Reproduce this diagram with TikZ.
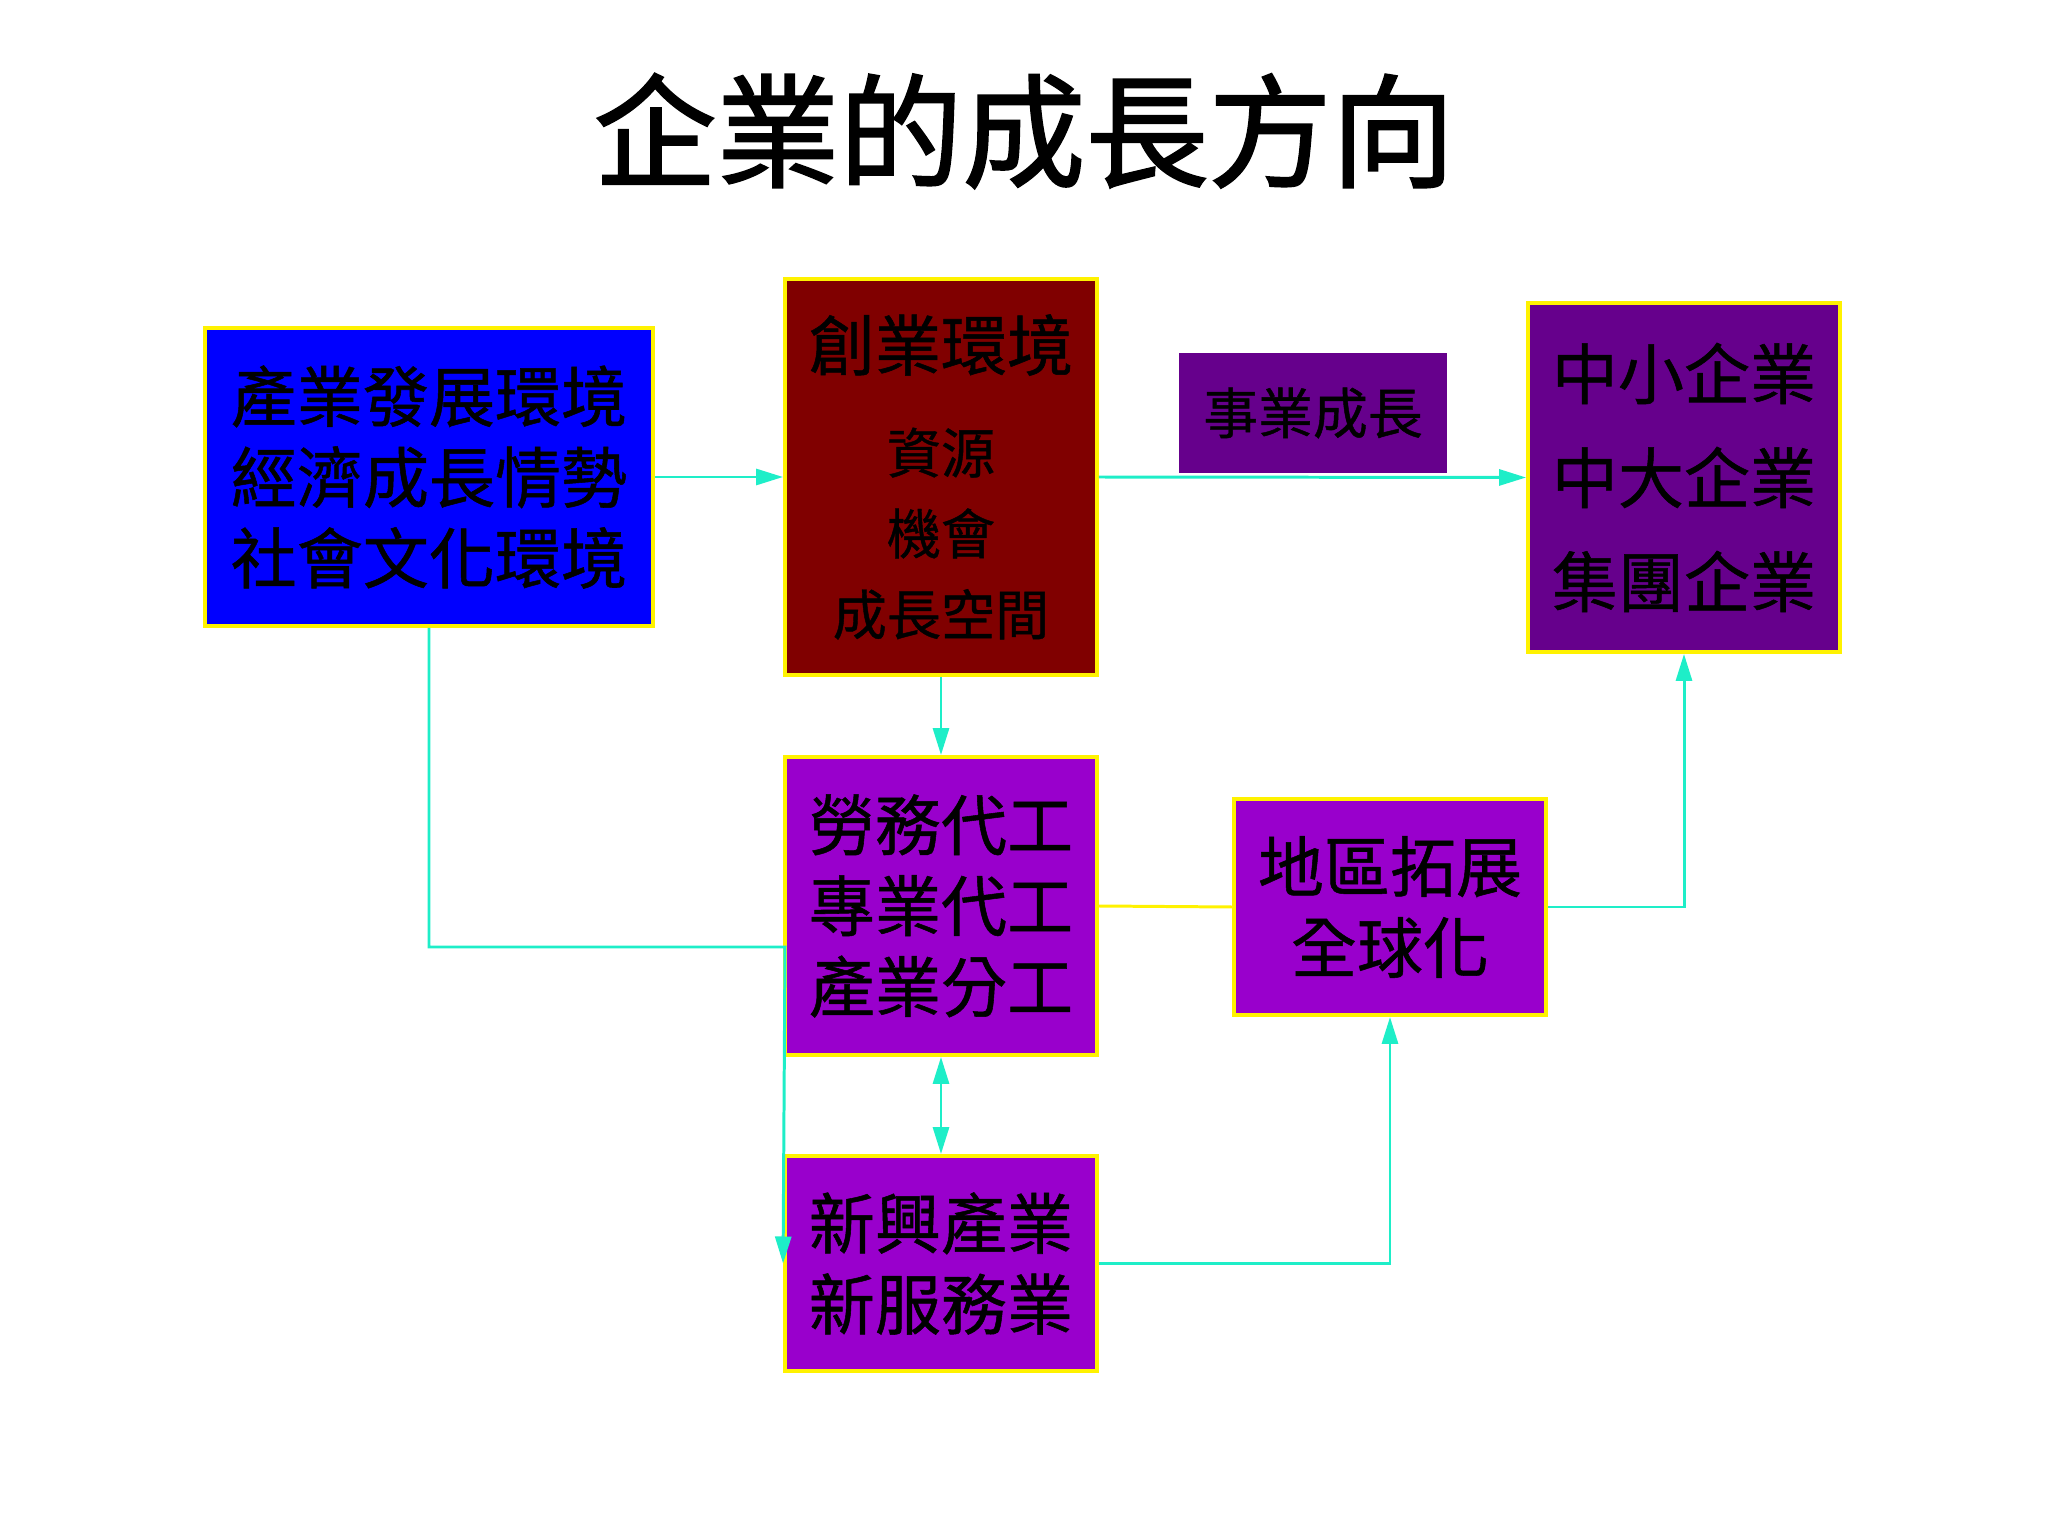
\documentclass[tikz,border=0pt]{standalone}
\usepackage{fontspec}
\setmainfont{Noto Sans CJK TC}[FakeBold=0.8]
\newfontfamily\titlefont{Noto Sans CJK TC}[FakeBold=1.6]
\usepackage{tikz}
\usetikzlibrary{arrows.meta}
\definecolor{linkcol}{RGB}{30,238,200}
\definecolor{deepred}{RGB}{128,0,0}
\definecolor{darkpurple}{RGB}{102,0,140}
\definecolor{lightpurple}{RGB}{153,0,204}

\begin{document}
\begin{tikzpicture}[
  blk/.style={draw=yellow,line width=1.1pt,align=center,inner sep=0pt,
    font=\fontsize{18.8pt}{23pt}\selectfont},
  link/.style={draw=linkcol,line width=0.85pt},
  >={Triangle[length=2.7mm,width=1.6mm]}]
\useasboundingbox (0,0) rectangle (20.48,-15.36);
\node[font=\titlefont\fontsize{35pt}{40pt}\selectfont] (title) at (10.24,-1.31) {企業的成長方向};
\node[blk,fill=blue,minimum width=4.48cm,minimum height=2.98cm] (env) at (4.29,-4.77)
  {產業發展環境\\經濟成長情勢\\社會文化環境};
\node[blk,fill=deepred,minimum width=3.12cm,minimum height=3.96cm,
  font=\fontsize{15.4pt}{23pt}\selectfont] (startup) at (9.41,-4.77)
  {{\fontsize{18.8pt}{23pt}\selectfont 創業環境}\\[6.3pt]資源\\機會\\成長空間};
\node[fill=darkpurple,inner sep=0pt,minimum width=2.68cm,minimum height=1.2cm,
  font=\fontsize{15.6pt}{20pt}\selectfont] (growth) at (13.13,-4.13) {事業成長};
\node[blk,fill=darkpurple,minimum width=3.12cm,minimum height=3.49cm,
  font=\fontsize{18.8pt}{29.6pt}\selectfont] (firms) at (16.84,-4.775)
  {中小企業\\中大企業\\集團企業};
\node[blk,fill=lightpurple,minimum width=3.12cm,minimum height=2.98cm] (labor) at (9.41,-9.06)
  {勞務代工\\專業代工\\產業分工};
\node[blk,fill=lightpurple,minimum width=3.12cm,minimum height=2.16cm] (region) at (13.90,-9.07)
  {地區拓展\\全球化};
\node[blk,fill=lightpurple,minimum width=3.12cm,minimum height=2.15cm] (newind) at (9.41,-12.635)
  {新興產業\\新服務業};
\coordinate (bend) at (7.85,-9.47);
\draw[link,->] (env.east) -- (startup.west);
\draw[link,->] (startup.east) -- (firms.west);
\draw[link,->] (startup.south) -- (labor.north);
\draw[link,->] (env.south) |- (bend) -- (newind.west);
\draw[link,<->] (labor.south) -- (newind.north);
\draw[yellow,line width=0.85pt] (labor.east) -- (region.west);
\draw[link,->] (region.east) -| (firms.south);
\draw[link,->] (newind.east) -| (region.south);
\end{tikzpicture}
\end{document}
